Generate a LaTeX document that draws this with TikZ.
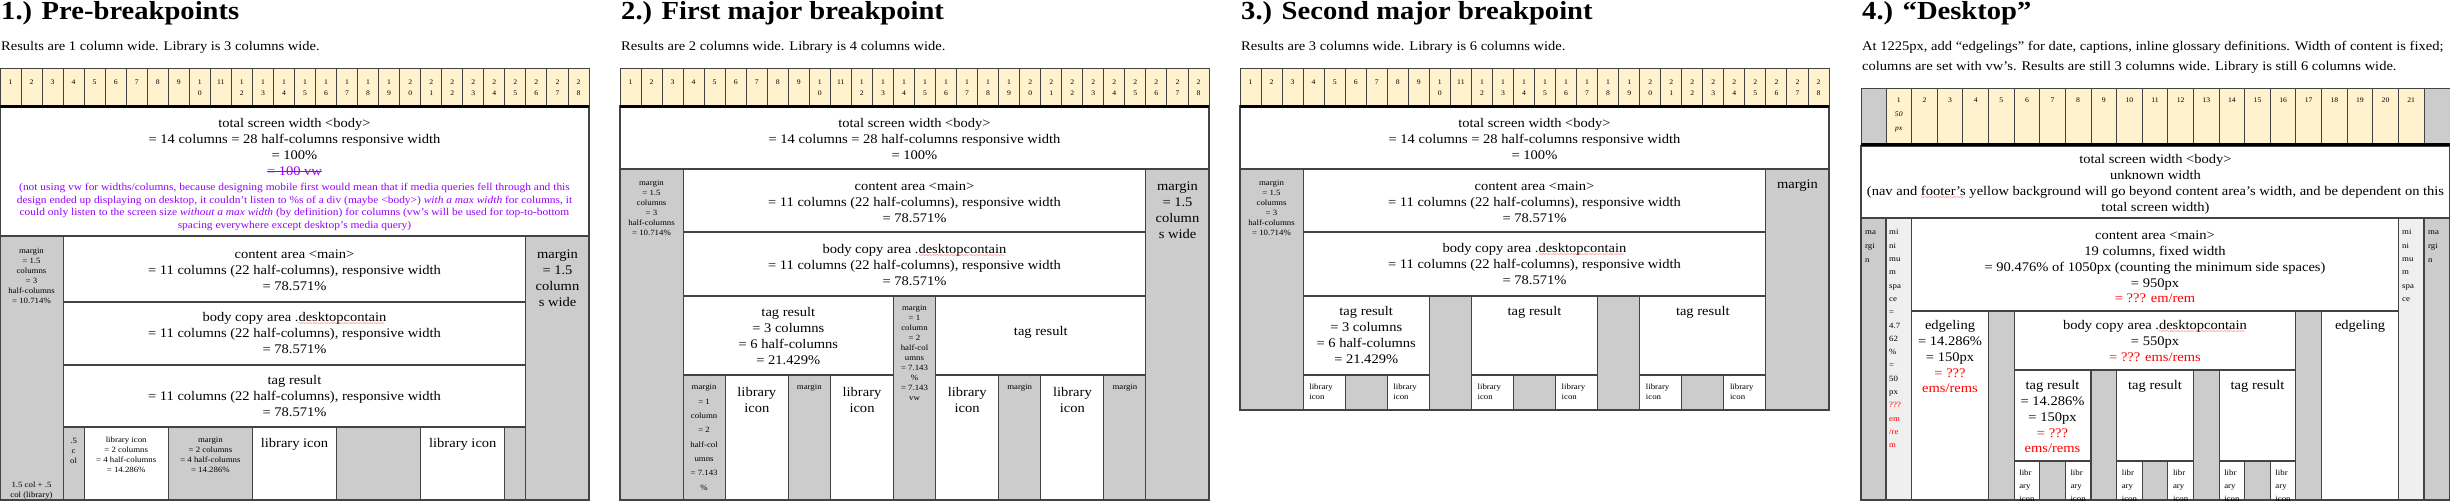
\documentclass[tikz,border=0pt]{standalone}
\usepackage{fontspec}
\setmainfont{Liberation Serif}[FakeStretch=1.1]
\definecolor{cellyellow}{HTML}{FFF2CC}
\definecolor{mgray}{HTML}{CCCCCC}
\definecolor{lgray}{HTML}{EFEFEF}
\definecolor{bord}{HTML}{434343}
\definecolor{purp}{HTML}{9900FF}
\definecolor{redt}{HTML}{FF0000}
\newcommand\squig[1]{\setbox0=\hbox{#1}\leavevmode\copy0\llap{\hbox to \wd0{\color{redt}\leaders\hbox{\raisebox{-4.2pt}{\fontsize{6}{6}\selectfont\char"7E}}\hfill}}}
\newcommand\strk[1]{\setbox0=\hbox{#1}\leavevmode\copy0\llap{\rule[3.6pt]{\wd0}{0.8pt}}}
\newcommand\MT[4]{\node[mt] (#1) at (#2,#3-6.5) {\strut #4};}
\begin{document}
\begin{tikzpicture}[x=1pt,y=-1pt,
 box/.style={draw=bord,line width=1.1pt,fill=white},
 gbox/.style={box,fill=mgray},
 lbox/.style={box,fill=lgray},
 cell/.style={draw=bord,line width=0.9pt,fill=cellyellow},
 gcell/.style={cell,fill=mgray},
 mt/.style={inner sep=0pt,anchor=north,align=center,font=\fontsize{13.2}{15.8}\selectfont},
 tt/.style={inner sep=0pt,anchor=north,align=center,font=\fontsize{8}{10}\selectfont},
 ttl/.style={tt,anchor=north west,align=left},
 cl/.style={inner sep=0pt,anchor=north,align=center,font=\fontsize{7}{10.6}\selectfont},
 ptxt/.style={inner sep=0pt,anchor=north,align=center,text=purp,font=\fontsize{10.4}{12.5}\selectfont},
 ttlx/.style={inner sep=0pt,anchor=base west,font=\fontsize{26}{30}\selectfont\bfseries},
 subx/.style={inner sep=0pt,anchor=base west,font=\fontsize{13.2}{16}\selectfont}]
\useasboundingbox (0,0) rectangle (2450,501);
\fill[white] (0,0) rectangle (2450,501);

% ---------- grids panels 1-3
\foreach \px/\pn in {0/a,620/b,1240/c} {
  \foreach \i in {1,...,28} {
    \pgfmathsetmacro\xa{\px+(\i-1)*21.0357}
    \pgfmathsetmacro\xb{\xa+21.0357}
    \pgfmathsetmacro\xm{\xa+10.518}
    \pgfmathtruncatemacro\ta{\i/10}
    \pgfmathtruncatemacro\tb{\i-10*\ta}
    \draw[cell] (\xa,68) rectangle (\xb,105);
    \ifnum\i<10 \def\lab{\i}\else\ifnum\i=11 \def\lab{11}\else\edef\lab{\ta\noexpand\\\tb}\fi\fi
    \node[cl] (g\pn\i) at (\xm,77.2) {\strut\lab};
  }
}

% ---------- panel 1 boxes
\draw[box] (0,106) rectangle (589,236);
\draw[gbox] (0,236) rectangle (63.1,500);
\draw[box] (63.1,236) rectangle (525.9,302);
\draw[gbox] (525.9,236) rectangle (589,500);
\draw[box] (63.1,302) rectangle (525.9,365);
\draw[box] (63.1,365) rectangle (525.9,427);
\draw[gbox] (63.1,427) rectangle (84.1,500);
\draw[box] (84.1,427) rectangle (168.3,500);
\draw[gbox] (168.3,427) rectangle (252.4,500);
\draw[box] (252.4,427) rectangle (336.6,500);
\draw[gbox] (336.6,427) rectangle (420.7,500);
\draw[box] (420.7,427) rectangle (504.9,500);
\draw[gbox] (504.9,427) rectangle (525.9,500);

% ---------- panel 2 boxes
\draw[box] (620,106) rectangle (1209,169);
\draw[gbox] (620,169) rectangle (683.1,500);
\draw[box] (683.1,169) rectangle (1145.9,232);
\draw[gbox] (1145.9,169) rectangle (1209,500);
\draw[box] (683.1,232) rectangle (1145.9,296);
\draw[box] (683.1,296) rectangle (893.5,375);
\draw[gbox] (893.5,296) rectangle (935.6,500);
\draw[box] (935.6,296) rectangle (1145.9,375);
\draw[gbox] (683.1,375) rectangle (725.2,500);
\draw[box] (725.2,375) rectangle (788.3,500);
\draw[gbox] (788.3,375) rectangle (830.4,500);
\draw[box] (830.4,375) rectangle (893.5,500);
\draw[box] (935.6,375) rectangle (998.7,500);
\draw[gbox] (998.7,375) rectangle (1040.8,500);
\draw[box] (1040.8,375) rectangle (1103.9,500);
\draw[gbox] (1103.9,375) rectangle (1145.9,500);

% ---------- panel 3 boxes
\draw[box] (1240,106) rectangle (1829,169);
\draw[gbox] (1240,169) rectangle (1303.1,410);
\draw[box] (1303.1,169) rectangle (1765.9,232);
\draw[gbox] (1765.9,169) rectangle (1829,410);
\draw[box] (1303.1,232) rectangle (1765.9,296);
\draw[box] (1303.1,296) rectangle (1429.3,375);
\draw[gbox] (1429.3,296) rectangle (1471.4,410);
\draw[box] (1471.4,296) rectangle (1597.6,375);
\draw[gbox] (1597.6,296) rectangle (1639.7,410);
\draw[box] (1639.7,296) rectangle (1765.9,375);
\foreach \xs [count=\k] in {1303.1,1471.4,1639.7} {
  \draw[box] (\xs,375) rectangle (\xs+42.07,410);
  \draw[gbox] (\xs+42.07,375) rectangle (\xs+84.14,410);
  \draw[box] (\xs+84.14,375) rectangle (\xs+126.2,410);
  \node[ttl] (p3lia\k) at (\xs+6,387-4.3) {\strut library\\icon};
  \node[ttl] (p3lib\k) at (\xs+90.1,387-4.3) {\strut library\\icon};
}

% ---------- panel 4 boxes
\draw[gcell] (1861,88) rectangle (1886,143);
\foreach \i in {1,...,21} {
  \pgfmathsetmacro\xa{1886+(\i-1)*25.619}
  \pgfmathsetmacro\xb{\xa+25.619}
  \draw[cell] (\xa,88) rectangle (\xb,143);
}
\draw[gcell] (2424,88) rectangle (2450,143);
\foreach \i in {2,...,21} {
  \node[cl] (gd\i) at ({1886+(\i-0.5)*25.619},95.3) {\strut\i};
}
\node[cl,font=\fontsize{7}{14}\selectfont] (gd1) at (1898.8,100-7.4) {\strut 1\\\textit{50}\\\textit{px}};
\draw[box] (1861,146) rectangle (2450,218);
\draw[gbox] (1861,218) rectangle (1886,500);
\draw[lbox] (1886,218) rectangle (1911.6,500);
\draw[box] (1911.6,218) rectangle (2398.4,311);
\draw[lbox] (2398.4,218) rectangle (2424,500);
\draw[gbox] (2424,218) rectangle (2450,500);
\draw[box] (1911.6,311) rectangle (1988.5,500);
\draw[gbox] (1988.5,311) rectangle (2014.1,500);
\draw[box] (2014.1,311) rectangle (2295.9,370);
\draw[gbox] (2295.9,311) rectangle (2321.5,500);
\draw[box] (2321.5,311) rectangle (2398.4,500);
\draw[box] (2014.1,370) rectangle (2090.96,461);
\draw[gbox] (2090.96,370) rectangle (2116.58,500);
\draw[box] (2116.58,370) rectangle (2193.44,461);
\draw[gbox] (2193.44,370) rectangle (2219.06,500);
\draw[box] (2219.06,370) rectangle (2295.92,461);
\foreach \xs [count=\k] in {2014.1,2116.58,2219.06} {
  \draw[box] (\xs,461) rectangle (\xs+25.62,500);
  \draw[gbox] (\xs+25.62,461) rectangle (\xs+51.24,500);
  \draw[box] (\xs+51.24,461) rectangle (\xs+76.86,500);
  \node[ttl,font=\fontsize{8}{13}\selectfont] (p4lia\k) at (\xs+5,473-6.4) {\strut libr\\ary\\icon};
  \node[ttl,font=\fontsize{8}{13}\selectfont] (p4lib\k) at (\xs+56.2,473-6.4) {\strut libr\\ary\\icon};
}

% ---------- thick lines under grids
\draw[line width=3pt] (0,106.5) -- (589,106.5);
\draw[line width=3pt] (620,106.5) -- (1209,106.5);
\draw[line width=3pt] (1240,106.5) -- (1829,106.5);
\draw[line width=3pt] (1861,144.5) -- (2450,144.5);

% ---------- titles
\node[ttlx] (t1) at (1,19) {1.) Pre-breakpoints};
\node[subx] (s1) at (1,50.5) {Results are 1 column wide. Library is 3 columns wide.};
\node[ttlx] (t2) at (621,19) {2.) First major breakpoint};
\node[subx] (s2) at (621,50.5) {Results are 2 columns wide. Library is 4 columns wide.};
\node[ttlx] (t3) at (1241,19) {3.) Second major breakpoint};
\node[subx] (s3) at (1241,50.5) {Results are 3 columns wide. Library is 6 columns wide.};
\node[ttlx] (t4) at (1862,19) {4.) “Desktop”};
\node[subx] (s4a) at (1862,50.5) {At 1225px, add “edgelings” for date, captions, inline glossary definitions. Width of content is fixed;};
\node[subx] (s4b) at (1862,70.7) {columns are set with vw’s. Results are still 3 columns wide. Library is still 6 columns wide.};

% ---------- panel 1 text
\MT{p1tot}{294.5}{123}{total screen width <body>\\= 14 columns = 28 half-columns responsive width\\= 100\%\\\textcolor{purp}{\strk{= 100 vw}}}
\node[ptxt] (p1note) at (294.5,187-5.1) {\strut (not using vw for widths/columns, because designing mobile first would mean that if media queries fell through and this\\design ended up displaying on desktop, it couldn't listen to \%s of a div (maybe <body>) \textit{with a max width} for columns, it\\could only listen to the screen size \textit{without a max width} (by definition) for columns (vw's will be used for top-to-bottom\\spacing everywhere except desktop's media query)};
\node[tt] (p1lm) at (31.5,251-4.3) {\strut margin\\= 1.5\\columns\\= 3\\half-columns\\= 10.714\%};
\node[tt] (p1lmb) at (31.5,485-4.3) {\strut 1.5 col + .5\\col (library)};
\MT{p1main}{294.5}{254}{content area <main>\\= 11 columns (22 half-columns), responsive width\\= 78.571\%}
\MT{p1body}{294.5}{317}{body copy area .\squig{desktopcontain}\\= 11 columns (22 half-columns), responsive width\\= 78.571\%}
\MT{p1tag}{294.5}{380}{tag result\\= 11 columns (22 half-columns), responsive width\\= 78.571\%}
\MT{p1rm}{557.5}{254}{margin\\= 1.5\\column\\s wide}
\node[tt] (p1half) at (73.6,441-4.3) {\strut .5\\c\\ol};
\node[tt] (p1li1) at (126.2,440-4.3) {\strut library icon\\= 2 columns\\= 4 half-columns\\= 14.286\%};
\node[tt] (p1lm1) at (210.4,440-4.3) {\strut margin\\= 2 columns\\= 4 half-columns\\= 14.286\%};
\MT{p1li2}{294.5}{443}{library icon}
\MT{p1li3}{462.8}{443}{library icon}

% ---------- panel 2 text
\MT{p2tot}{914.5}{123}{total screen width <body>\\= 14 columns = 28 half-columns responsive width\\= 100\%}
\node[tt] (p2lm) at (651.5,183-4.3) {\strut margin\\= 1.5\\columns\\= 3\\half-columns\\= 10.714\%};
\MT{p2main}{914.5}{186}{content area <main>\\= 11 columns (22 half-columns), responsive width\\= 78.571\%}
\MT{p2rm}{1177.5}{186}{margin\\= 1.5\\column\\s wide}
\MT{p2body}{914.5}{249}{body copy area .\squig{desktopcontain}\\= 11 columns (22 half-columns), responsive width\\= 78.571\%}
\MT{p2tag1}{788.3}{312}{tag result\\= 3 columns\\= 6 half-columns\\= 21.429\%}
\MT{p2tag2}{1040.8}{331}{tag result}
\node[tt] (p2mm) at (914.5,308-4.3) {\strut margin\\= 1\\column\\= 2\\half-col\\umns\\= 7.143\\\%\\= 7.143\\vw};
\node[tt,font=\fontsize{8}{14.3}\selectfont] (p2lbm1) at (704.1,387-7.3) {\strut margin\\= 1\\column\\= 2\\half-col\\umns\\= 7.143\\\%};
\node[tt] (p2lbm2) at (809.3,387-4.3) {\strut margin};
\node[tt] (p2lbm3) at (1019.7,387-4.3) {\strut margin};
\node[tt] (p2lbm4) at (1124.9,387-4.3) {\strut margin};
\MT{p2li1}{756.8}{392}{library\\icon}
\MT{p2li2}{862}{392}{library\\icon}
\MT{p2li3}{967.2}{392}{library\\icon}
\MT{p2li4}{1072.4}{392}{library\\icon}

% ---------- panel 3 text
\MT{p3tot}{1534.5}{123}{total screen width <body>\\= 14 columns = 28 half-columns responsive width\\= 100\%}
\node[tt] (p3lm) at (1271.5,183-4.3) {\strut margin\\= 1.5\\columns\\= 3\\half-columns\\= 10.714\%};
\MT{p3main}{1534.5}{186}{content area <main>\\= 11 columns (22 half-columns), responsive width\\= 78.571\%}
\MT{p3rm}{1797.5}{184}{margin}
\MT{p3body}{1534.5}{248}{body copy area .\squig{desktopcontain}\\= 11 columns (22 half-columns), responsive width\\= 78.571\%}
\MT{p3tag1}{1366.2}{311}{tag result\\= 3 columns\\= 6 half-columns\\= 21.429\%}
\MT{p3tag2}{1534.5}{311}{tag result}
\MT{p3tag3}{1702.8}{311}{tag result}

% ---------- panel 4 text
\MT{p4tot}{2155.5}{159}{total screen width <body>\\unknown width\\(nav and \squig{footer’s} yellow background will go beyond content area’s width, and be dependent on this\\total screen width)}
\node[ttl,font=\fontsize{8}{14}\selectfont] (p4ml) at (1865,232-7.1) {\strut ma\\rgi\\n};
\node[ttl,font=\fontsize{8}{13.3}\selectfont] (p4sl) at (1889,232-6.6) {\strut mi\\ni\\mu\\m\\spa\\ce\\=\\4.7\\62\\\%\\=\\50\\px\\\textcolor{redt}{???}\\\textcolor{redt}{em}\\\textcolor{redt}{/re}\\\textcolor{redt}{m}};
\node[ttl,font=\fontsize{8}{13.3}\selectfont] (p4sr) at (2402,232-6.6) {\strut mi\\ni\\mu\\m\\spa\\ce};
\node[ttl,font=\fontsize{8}{14}\selectfont] (p4mr) at (2428,232-7.1) {\strut ma\\rgi\\n};
\MT{p4main}{2155}{235}{content area <main>\\19 columns, fixed width\\= 90.476\% of 1050px (counting the minimum side spaces)\\= 950px\\\textcolor{redt}{= ??? em/rem}}
\MT{p4edgeL}{1950}{325}{edgeling\\= 14.286\%\\= 150px\\\textcolor{redt}{= ???}\\\textcolor{redt}{ems/rems}}
\MT{p4body}{2155}{325}{body copy area .\squig{desktopcontain}\\= 550px\\\textcolor{redt}{= ??? ems/rems}}
\MT{p4edgeR}{2360}{325}{edgeling}
\MT{p4tag1}{2052.5}{385}{tag result\\= 14.286\%\\= 150px\\\textcolor{redt}{= ???}\\\textcolor{redt}{ems/rems}}
\MT{p4tag2}{2155}{385}{tag result}
\MT{p4tag3}{2257.5}{385}{tag result}
\end{tikzpicture}
\end{document}
